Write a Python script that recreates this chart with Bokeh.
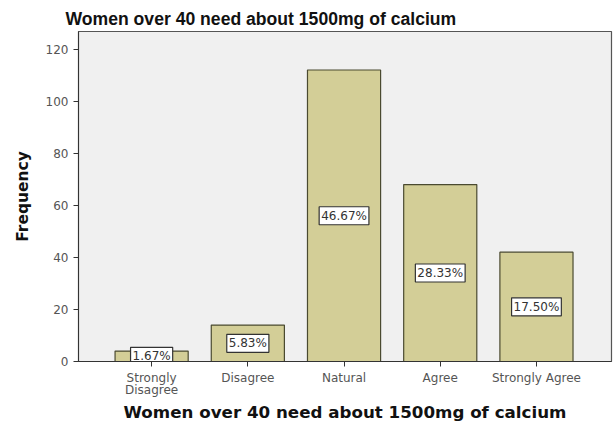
from bokeh.plotting import figure
from bokeh.models import ColumnDataSource, FixedTicker, Range1d, Title
from bokeh.core.properties import value
from bokeh.embed import file_html
from bokeh.resources import INLINE

categories = ["Strongly\nDisagree", "Disagree", "Natural", "Agree", "Strongly Agree"]
counts = [4, 14, 112, 68, 42]
percent_labels = ["1.67%", "5.83%", "46.67%", "28.33%", "17.50%"]
y_ticks = [0, 20, 40, 60, 80, 100, 120]

xs = list(range(len(categories)))
src = ColumnDataSource(dict(
    x=xs,
    top=counts,
    mid=[c / 2 for c in counts],
    lab=percent_labels,
))

TFONT = "Liberation Sans"
FONT = "DejaVu Sans"

p = figure(width=614, height=427, output_backend="svg", toolbar_location=None,
           x_range=Range1d(-0.76, 4.78), y_range=Range1d(0, 126.8),
           min_border_left=78, min_border_right=3, min_border_top=31, min_border_bottom=66)

p.vbar(x="x", top="top", width=0.76, source=src,
       fill_color="#d3ce97", line_color="#4a4a30", line_width=1.2)

p.text(x="x", y="mid", text="lab", source=src,
       text_align="center", text_baseline="middle",
       text_font=value(FONT), text_font_size="12px", text_color="#333333",
       background_fill_color="white", border_line_color="#333333",
       border_line_width=1.2, padding=2)

p.title = None
p.add_layout(Title(text="Women over 40 need about 1500mg of calcium",
                   text_font=TFONT, text_font_size="17.6px", text_font_style="bold",
                   text_color="#111111", align="left", offset=-13, standoff=6), "above")

p.background_fill_color = "#f0f0f0"
p.border_fill_color = "white"
p.outline_line_color = "#555555"
p.outline_line_width = 1.2
p.xgrid.visible = False
p.ygrid.visible = False

p.yaxis.ticker = FixedTicker(ticks=y_ticks)
p.yaxis.axis_label = "Frequency"
p.yaxis.axis_label_text_font = FONT
p.yaxis.axis_label_text_font_size = "15.5px"
p.yaxis.axis_label_text_font_style = "bold"
p.yaxis.axis_label_text_color = "#111111"
p.yaxis.axis_label_standoff = 11
p.yaxis.major_label_text_font = FONT
p.yaxis.major_label_text_font_size = "12px"
p.yaxis.major_label_text_color = "#555555"
p.yaxis.major_label_standoff = 5
p.yaxis.minor_tick_line_color = None
p.yaxis.major_tick_out = 5
p.yaxis.major_tick_in = 0
p.yaxis.axis_line_color = "#333333"
p.yaxis.major_tick_line_color = "#333333"

p.xaxis.ticker = FixedTicker(ticks=xs)
p.xaxis.major_label_overrides = {i: c for i, c in enumerate(categories)}
p.xaxis.axis_label = "Women over 40 need about 1500mg of calcium"
p.xaxis.axis_label_text_font = FONT
p.xaxis.axis_label_text_font_size = "16.7px"
p.xaxis.axis_label_text_font_style = "bold"
p.xaxis.axis_label_text_color = "#111111"
p.xaxis.axis_label_standoff = 2
p.xaxis.major_label_text_font = FONT
p.xaxis.major_label_text_font_size = "12px"
p.xaxis.major_label_text_color = "#555555"
p.xaxis.major_label_text_line_height = 0.9
p.xaxis.major_label_standoff = 4
p.xaxis.minor_tick_line_color = None
p.xaxis.major_tick_out = 5
p.xaxis.major_tick_in = 0
p.xaxis.axis_line_color = "#333333"
p.xaxis.major_tick_line_color = "#333333"

open("out.html", "w").write(file_html(p, INLINE))
